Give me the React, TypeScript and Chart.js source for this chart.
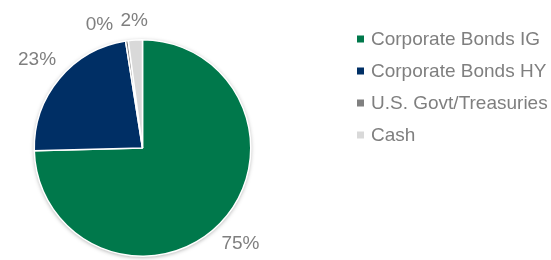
import React, { useEffect, useRef } from "react";
import { Chart, registerables } from "chart.js";

Chart.register(...registerables);

const categories = ["Corporate Bonds IG", "Corporate Bonds HY", "U.S. Govt/Treasuries", "Cash"];
const values = [74.6, 22.9, 0.4, 2.1];
const colors = ["#00784B", "#002F65", "#808080", "#D9D9D9"];

const FONT = "'Liberation Sans', Arial, sans-serif";
const TEXT_COLOR = "#7F7F7F";

const shadowPlugin = {
  id: "pieShadow",
  beforeDatasetsDraw(chart: any) {
    const meta = chart.getDatasetMeta(0);
    const arc = meta.data[0];
    if (!arc) return;
    const { x, y, outerRadius } = arc.getProps(["x", "y", "outerRadius"], true);
    const ctx = chart.ctx;
    ctx.save();
    ctx.beginPath();
    ctx.arc(x, y, outerRadius, 0, Math.PI * 2);
    ctx.fillStyle = "#ffffff";
    ctx.shadowColor = "rgba(0,0,0,0.35)";
    ctx.shadowBlur = 4;
    ctx.shadowOffsetX = 0;
    ctx.shadowOffsetY = 1;
    ctx.fill();
    ctx.restore();
  },
};

const labelPlugin = {
  id: "outsideLabels",
  afterDatasetsDraw(chart: any) {
    const ctx = chart.ctx;
    const meta = chart.getDatasetMeta(0);
    const data = chart.data.datasets[0].data as number[];
    ctx.save();
    ctx.font = `19px ${FONT}`;
    ctx.fillStyle = TEXT_COLOR;
    ctx.textAlign = "center";
    ctx.textBaseline = "middle";
    const placed: { l: number; r: number; t: number; b: number }[] = [];
    const gap = 8;
    const h = 20;
    for (let i = meta.data.length - 1; i >= 0; i--) {
      const arc = meta.data[i];
      const { x, y, startAngle, endAngle, outerRadius } = arc.getProps(
        ["x", "y", "startAngle", "endAngle", "outerRadius"],
        true
      );
      const text = `${Math.round(data[i])}%`;
      const w = ctx.measureText(text).width;
      let ang = (startAngle + endAngle) / 2;
      let box: any = null;
      for (let k = 0; k < 90; k++) {
        const c = Math.cos(ang);
        const s = Math.sin(ang);
        const ext = Math.abs(c) * w / 2 + Math.abs(s) * h / 2;
        const d = outerRadius + gap + ext;
        const cx = x + c * d;
        const cy = y + s * d;
        box = { cx, cy, l: cx - w / 2, r: cx + w / 2, t: cy - h / 2, b: cy + h / 2 };
        const pad = 6;
        const hit = placed.some(
          (p) => box.l < p.r + pad && box.r > p.l - pad && box.t < p.b && box.b > p.t
        );
        if (!hit) break;
        ang -= Math.PI / 180;
      }
      placed.push(box);
      ctx.fillText(text, box.cx, box.cy);
    }
    ctx.restore();
  },
};

const legendPlugin = {
  id: "sideLegend",
  afterDraw(chart: any) {
    const ctx = chart.ctx;
    const ds = chart.data.datasets[0];
    const left = 357;
    const top = 39;
    const step = 32;
    const box = 7;
    ctx.save();
    ctx.font = `19px ${FONT}`;
    ctx.textBaseline = "middle";
    ctx.textAlign = "left";
    chart.data.labels.forEach((lab: string, i: number) => {
      const cy = top + i * step;
      ctx.fillStyle = ds.backgroundColor[i];
      ctx.fillRect(left, cy - box / 2, box, box);
      ctx.fillStyle = TEXT_COLOR;
      ctx.fillText(lab, left + 14, cy + 1);
    });
    ctx.restore();
  },
};

export default function App() {
  const ref = useRef<HTMLCanvasElement | null>(null);
  useEffect(() => {
    if (!ref.current) return;
    const chart = new Chart(ref.current, {
      type: "pie",
      data: {
        labels: categories,
        datasets: [
          {
            data: values,
            backgroundColor: colors,
            borderColor: "#ffffff",
            borderWidth: 1.5,
          },
        ],
      },
      options: {
        animation: false,
        responsive: true,
        maintainAspectRatio: false,
        layout: { padding: { left: 33, right: 299, top: 39, bottom: 3 } },
        plugins: {
          legend: { display: false },
          tooltip: { enabled: false },
        },
      },
      plugins: [shadowPlugin, labelPlugin, legendPlugin],
    });
    return () => chart.destroy();
  }, []);
  return (
    <div style={{ position: "absolute", left: 0, top: 0, width: 551, height: 260, background: "#fff" }}>
      <canvas ref={ref} />
    </div>
  );
}
